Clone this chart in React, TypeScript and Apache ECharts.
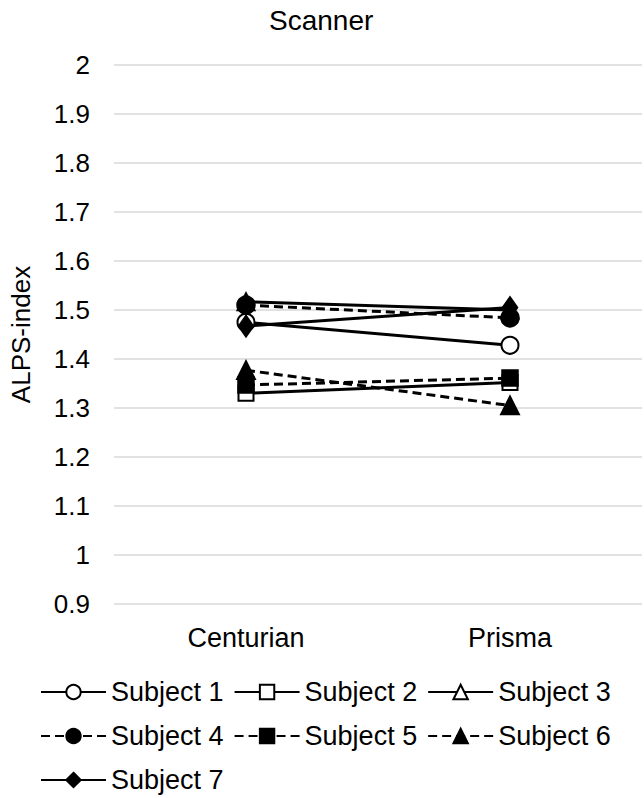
import React, { useEffect, useRef } from "react";
import * as echarts from "echarts";

const categories = ["Centurian", "Prisma"];
const seriesNames = ["Subject 1", "Subject 2", "Subject 3", "Subject 4", "Subject 5", "Subject 6", "Subject 7"];
const subject1 = [1.475, 1.428];
const subject2 = [1.33, 1.352];
const subject3 = [1.517, 1.5];
const subject4 = [1.51, 1.484];
const subject5 = [1.347, 1.361];
const subject6 = [1.377, 1.305];
const subject7 = [1.467, 1.505];
const seriesValues = [subject1, subject2, subject3, subject4, subject5, subject6, subject7];
const symbols = ["emptyCircle", "emptyRect", "emptyTriangle", "circle", "rect", "triangle", "diamond"];
const dashed = [false, false, false, true, true, true, false];
const symbolSizes: any[] = [17, 15, 17, 17, 15, 17, [14, 20]];

export default function App() {
  const ref = useRef<HTMLDivElement>(null);
  useEffect(() => {
    if (!ref.current) return;
    const chart = echarts.init(ref.current, undefined, { renderer: "svg" });
    const font = "'Liberation Sans', Arial, sans-serif";
    chart.setOption({
      animation: false,
      backgroundColor: "#fff",
      textStyle: { fontFamily: font, color: "#000" },
      title: {
        text: "Scanner",
        left: 264,
        top: 1,
        textStyle: { fontFamily: font, fontSize: 28, fontWeight: "normal", color: "#000" },
      },
      grid: { left: 97, right: 2, top: 65, bottom: 194, containLabel: false },
      xAxis: {
        type: "category",
        data: categories,
        boundaryGap: true,
        axisLine: { show: false },
        axisTick: { show: false },
        axisLabel: { fontSize: 27, color: "#000", margin: 20, fontFamily: font },
      },
      yAxis: {
        type: "value",
        min: 0.9,
        max: 2,
        interval: 0.1,
        name: "ALPS-index",
        nameLocation: "middle",
        nameRotate: 90,
        nameGap: 80,
        nameTextStyle: { fontSize: 26, color: "#000", fontFamily: font },
        axisLine: { show: false },
        axisTick: { show: false },
        axisLabel: {
          fontSize: 26,
          color: "#000",
          margin: 24,
          fontFamily: font,
          formatter: (v: number) => String(Math.round(v * 10) / 10),
        },
        splitLine: { lineStyle: { color: "#d9d9d9", width: 1.5 } },
      },
      legend: {
        data: seriesNames,
        left: 35,
        top: 670,
        width: 600,
        itemWidth: 65,
        itemHeight: 18,
        itemGap: 10,
        textStyle: { fontSize: 27, color: "#000", fontFamily: font, lineHeight: 34 },
      },
      series: seriesNames.map((name, i) => ({
        name,
        type: "line",
        data: seriesValues[i],
        symbol: symbols[i],
        symbolSize: symbolSizes[i],
        lineStyle: { color: "#000", width: 3, type: dashed[i] ? [9, 5] : "solid" },
        itemStyle: { color: "#000", borderColor: "#000", borderWidth: 2.5 },
        emphasis: { disabled: true },
      })),
    });
    return () => chart.dispose();
  }, []);
  return (
    <div
      ref={ref}
      style={{ position: "absolute", left: 0, top: 0, width: 644, height: 798 }}
    />
  );
}
